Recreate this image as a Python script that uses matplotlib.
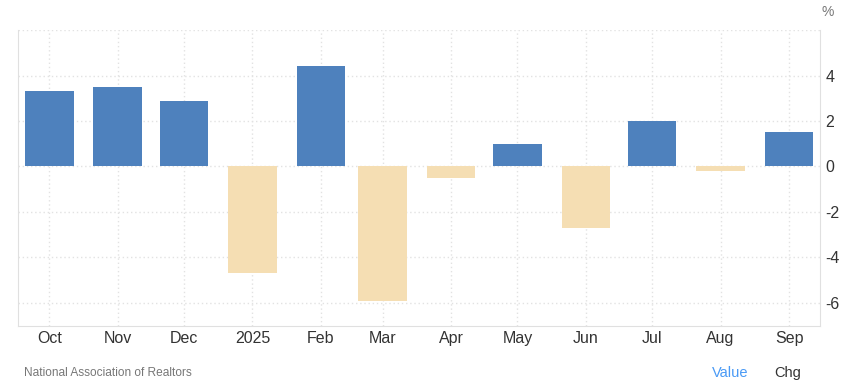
import numpy as np
import matplotlib.pyplot as plt
import matplotlib.dates as mdates
from datetime import datetime, timedelta

plt.rcParams['font.family'] = ['Liberation Sans', 'DejaVu Sans']

# Monthly change, %
months = ['2024-10-01', '2024-11-01', '2024-12-01', '2025-01-01', '2025-02-01', '2025-03-01',
          '2025-04-01', '2025-05-01', '2025-06-01', '2025-07-01', '2025-08-01', '2025-09-01']
labels = ['Oct', 'Nov', 'Dec', '2025', 'Feb', 'Mar', 'Apr', 'May', 'Jun', 'Jul', 'Aug', 'Sep']
values = [3.3, 3.5, 2.9, -4.7, 4.4, -5.9, -0.5, 1.0, -2.7, 2.0, -0.2, 1.5]

dates = [datetime.strptime(m, '%Y-%m-%d') for m in months]
colors = ['#4e81bd' if v >= 0 else '#f5deb3' for v in values]

fig = plt.figure(figsize=(8.41, 3.85), dpi=100)
ax = fig.add_axes([0.0218, 0.154, 0.9532, 0.768])

ax.bar(dates, values, width=22, color=colors, align='center', zorder=2)

ax.set_xlim(datetime(2024, 9, 17), datetime(2025, 9, 15))
ax.set_ylim(-7, 6)

ax.set_xticks(dates)
ax.set_xticklabels(labels)
ax.set_yticks([-6, -4, -2, 0, 2, 4, 6])
ax.set_yticklabels(['-6', '-4', '-2', '0', '2', '4', ''])

ax.yaxis.tick_right()
ax.tick_params(axis='both', length=0, labelsize=11.5, colors='#333333')
ax.tick_params(axis='x', pad=4)
ax.tick_params(axis='y', pad=4)

ax.grid(True, color='#e2e2e2', linestyle=(0, (1, 2)), linewidth=1, zorder=0)

for side in ['left', 'bottom', 'right']:
    ax.spines[side].set_color('#e0e0e0')
ax.spines['top'].set_visible(False)

fig.text(0.984, 0.97, '%', fontsize=10, color='#777777', ha='center', va='center')
fig.text(0.0285, 0.032, 'National Association of Realtors', fontsize=8.6, color='#777777',
         ha='left', va='center')
fig.text(0.868, 0.032, 'Value', fontsize=10.5, color='#4a9af5', ha='center', va='center')
fig.text(0.937, 0.032, 'Chg', fontsize=10.5, color='#333333', ha='center', va='center')

fig.savefig('out.png', dpi=100)
